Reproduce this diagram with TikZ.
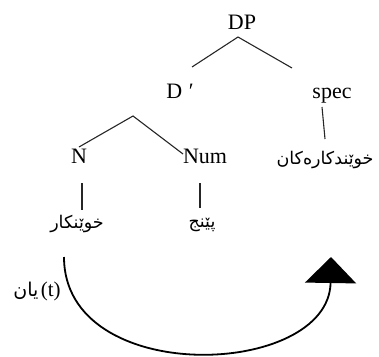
\documentclass[tikz,border=0pt]{standalone}
\usepackage{fontspec}
\setmainfont{Liberation Serif}
\newfontfamily\kurdfont[Script=Arabic]{DejaVu Sans}
\TeXXeTstate=1
\usetikzlibrary{arrows.meta}
\begin{document}
\begin{tikzpicture}[x=1pt,y=-1pt,
  lab/.style={inner sep=0pt,anchor=base,font=\fontsize{22}{26}\selectfont},
  ku/.style={inner sep=0pt,anchor=center,font=\kurdfont\fontsize{17.5}{20}\selectfont},
  edge/.style={line width=1.1pt,black!85},
  move/.style={line width=1.8pt,-{Triangle[length=26pt,width=51pt]}}]
\useasboundingbox (0,0) rectangle (379,356);
% labels
\node[lab] (dp) at (242,29) {DP};
\node[lab] (dbar) at (180,98) {D\hspace{0.3em}′};
\node[lab] (spec) at (332,98) {spec};
\node[lab] (n) at (79,163) {N};
\node[lab] (num) at (205,163) {Num};
\node[ku] (students) at (325,160) {\beginR خوێندکارەکان\endR};
\node[ku] (student) at (77,224) {\beginR خوێنکار\endR};
\node[ku] (five) at (202,225) {\beginR پێنج\endR};
\node[inner sep=0pt,anchor=center] (trace) at (37,291)
  {{\kurdfont\fontsize{19}{22}\selectfont\beginR یان\endR}\ {\fontsize{21}{24}\selectfont(t)}};
% branch points
\coordinate (dpt) at (238,37);
\coordinate (dpl) at (192,67);
\coordinate (dpr) at (292,68);
\coordinate (dbt) at (133,116);
\coordinate (dbl) at (79,147);
\coordinate (dbr) at (183,154);
\coordinate (spt) at (322,107);
\coordinate (spb) at (325,139);
\coordinate (nt) at (82,183);
\coordinate (nb) at (82,210);
\coordinate (numt) at (200,183);
\coordinate (numb) at (200,208);
\draw[edge] (dpl) -- (dpt) -- (dpr);
\draw[edge] (dbl) -- (dbt) -- (dbr);
\draw[edge] (spt) -- (spb);
\draw[edge] (nt) -- (nb);
\draw[edge] (numt) -- (numb);
% movement arrow
\coordinate (ms) at (64,257);
\coordinate (me) at (331,257);
\draw[move] (ms) .. controls (64,388) and (329,378) .. (me);
\end{tikzpicture}
\end{document}
